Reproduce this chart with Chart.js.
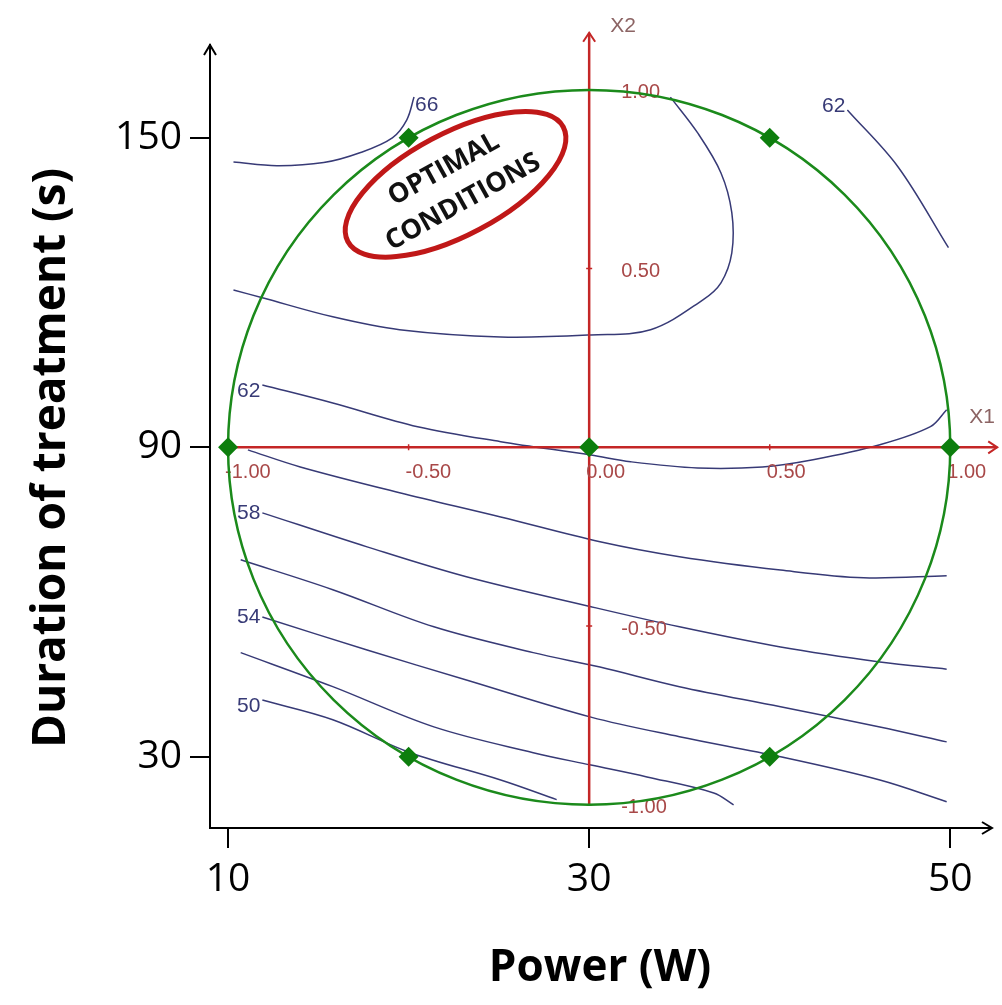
<!DOCTYPE html>
<html>
<head>
<meta charset="utf-8">
<script src="https://cdn.jsdelivr.net/npm/chart.js@4.4.1/dist/chart.umd.min.js"></script>
<style>
  html, body { margin: 0; padding: 0; background: #fff; }
  #wrap { width: 1002px; height: 1005px; position: relative; }
</style>
</head>
<body>
<div id="wrap"><canvas id="chart"></canvas></div>
<script>
// real-unit axis ticks
const powerTicks = [10, 30, 50];
const durationTicks = [30, 90, 150];

// coded axes (X1 = power, X2 = duration)
const codedX1Ticks = [-1, -0.5, 0, 0.5, 1];
const codedX1Labels = ['-1.00', '-0.50', '0.00', '0.50', '1.00'];
const codedX2Ticks = [-1, -0.5, 0.5, 1];
const codedX2Labels = ['-1.00', '-0.50', '0.50', '1.00'];
const designCenter = [30, 90];     // W, s  (coded 0,0)
const codedUnit = [20, 69.3];      // W, s per coded unit

// Doehlert design points
const designPower = [10, 50, 30, 20, 40, 20, 40];
const designTime = [90, 90, 90, 150, 150, 30, 30];

// iso-response lines [power, time]
const c66 = [[20.3, 157.9], [19.9, 153.5], [19.1, 150.0], [17.3, 147.1], [15.3, 145.2], [12.7, 144.6], [10.3, 145.3]];
const c64 = [[10.3, 120.5], [11.9, 119.0], [15.8, 115.3], [19.5, 112.8], [25.1, 111.4], [30.1, 111.8], [33.4, 112.8],
             [36.3, 118.6], [37.3, 121.9], [37.9, 127.7], [37.9, 135.5], [37.3, 143.2], [36.0, 151.0], [34.5, 157.9]];
const c62a = [[44.3, 155.4], [47.1, 144.4], [49.9, 128.7]];
const c62b = [[11.9, 102.1], [15.8, 98.6], [20.5, 94.0], [25.1, 91.1], [30.1, 88.5], [32.3, 87.2], [36.0, 86.0],
              [39.6, 86.2], [42.4, 87.6], [46.1, 90.5], [48.9, 94.0], [49.8, 97.3]];
const c60 = [[11.1, 89.5], [14.0, 86.2], [19.5, 81.2], [25.1, 76.5], [30.6, 71.7], [35.0, 68.8], [40.6, 66.2], [45.2, 64.7], [49.8, 65.1]];
const c58 = [[11.9, 77.3], [17.7, 70.7], [23.2, 64.9], [30.1, 59.1], [35.0, 55.2], [40.6, 51.3], [46.1, 48.4], [49.8, 47.0]];
const c56 = [[10.7, 68.2], [15.8, 62.4], [21.4, 55.2], [26.9, 50.2], [30.6, 47.4], [35.0, 43.6], [40.6, 39.7], [46.1, 35.8], [49.8, 32.9]];
const c54 = [[11.9, 57.1], [17.7, 50.7], [23.2, 44.9], [30.1, 37.7], [35.0, 33.9], [40.6, 30.0], [46.1, 25.5], [49.8, 21.3]];
const c52 = [[10.7, 50.2], [15.8, 43.6], [21.4, 35.8], [26.9, 30.8], [30.1, 28.4], [33.2, 26.1], [36.9, 23.0], [38.0, 20.7]];
const c50 = [[11.9, 41.0], [15.8, 37.2], [20.1, 30.8], [25.1, 25.5], [28.2, 21.7]];

const contourLines = [c66, c64, c62a, c62b, c60, c58, c56, c54, c52, c50];
const contourLevels = [66, 64, 62, 62, 60, 58, 56, 54, 52, 50];
const labelledLevels = [true, false, true, true, false, true, false, true, false, true];

// where each level label sits relative to the first point of its line (px)
const labelPlace = [
  { align: 'left', dx: 1, dy: 8 },
  null,
  { align: 'right', dx: -2, dy: -4 },
  { align: 'right', dx: -2, dy: 6 },
  null,
  { align: 'right', dx: -2, dy: 0 },
  null,
  { align: 'right', dx: -2, dy: 0 },
  null,
  { align: 'right', dx: -2, dy: 6 }
];

const noteCenter = [22.6, 141.0];   // W, s
const noteLines = ['OPTIMAL', 'CONDITIONS'];

const NAVY = '#373a76';
const RED = '#c42626';
const RED_TEXT = '#a84848';
const GREEN = '#1b8a1b';

const datasets = [{
  label: 'design',
  data: designPower.map((p, i) => ({ x: p, y: designTime[i] })),
  showLine: false,
  pointStyle: 'rectRot',
  pointRadius: 10,
  backgroundColor: '#0d7e0d',
  borderColor: '#0d7e0d',
  borderWidth: 0,
  clip: false
}];
contourLines.forEach((line, i) => {
  datasets.push({
    label: String(contourLevels[i]),
    data: line.map(p => ({ x: p[0], y: p[1] })),
    showLine: true,
    pointRadius: 0,
    borderColor: NAVY,
    borderWidth: 1.5,
    tension: 0.35,
    fill: false
  });
});

function arrow(ctx, x, y, dir, len, half) {
  ctx.beginPath();
  if (dir === 'right') {
    ctx.moveTo(x - len, y - half); ctx.lineTo(x, y); ctx.lineTo(x - len, y + half);
  } else {
    ctx.moveTo(x - half, y + len); ctx.lineTo(x, y); ctx.lineTo(x + half, y + len);
  }
  ctx.stroke();
}

const overlay = {
  id: 'overlay',
  beforeDatasetDraw(chart, args) {
    if (args.index !== 0) return;
    const { ctx, scales: { x, y } } = chart;
    const cx = x.getPixelForValue(designCenter[0]);
    const cy = y.getPixelForValue(designCenter[1]);
    const toX = c => x.getPixelForValue(designCenter[0] + c * codedUnit[0]);
    const toY = c => y.getPixelForValue(designCenter[1] + c * codedUnit[1]);
    ctx.save();
    // coded axes
    ctx.strokeStyle = RED;
    ctx.lineWidth = 2.5;
    const x1Tip = toX(1.13), x2Tip = toY(1.16);
    ctx.beginPath();
    ctx.moveTo(toX(-1), cy); ctx.lineTo(x1Tip, cy);
    ctx.moveTo(cx, toY(-1)); ctx.lineTo(cx, x2Tip);
    ctx.stroke();
    ctx.lineWidth = 2;
    arrow(ctx, x1Tip, cy, 'right', 9, 6);
    arrow(ctx, cx, x2Tip, 'up', 9, 6);
    ctx.lineWidth = 1.5;
    ctx.beginPath();
    codedX1Ticks.forEach(c => { ctx.moveTo(toX(c), cy - 3); ctx.lineTo(toX(c), cy + 3); });
    codedX2Ticks.forEach(c => { ctx.moveTo(cx - 3, toY(c)); ctx.lineTo(cx + 3, toY(c)); });
    ctx.stroke();
    ctx.fillStyle = RED_TEXT;
    ctx.font = '20px "Liberation Sans", Arial, sans-serif';
    ctx.textAlign = 'left';
    ctx.textBaseline = 'middle';
    codedX1Ticks.forEach((c, i) => ctx.fillText(codedX1Labels[i], toX(c) - 3, cy + 25));
    codedX2Ticks.forEach((c, i) => ctx.fillText(codedX2Labels[i], cx + 32, toY(c) + 3));
    ctx.fillStyle = '#8c6464';
    ctx.font = '21px "Liberation Sans", Arial, sans-serif';
    ctx.fillText('X1', x1Tip - 28, cy - 30);
    ctx.fillText('X2', cx + 21, x2Tip - 6);
    // experimental domain
    ctx.strokeStyle = GREEN;
    ctx.lineWidth = 2.5;
    ctx.beginPath();
    ctx.ellipse(cx, cy, toX(1) - cx, cy - toY(1), 0, 0, Math.PI * 2);
    ctx.stroke();
    ctx.restore();
  },
  afterDraw(chart) {
    const { ctx, scales: { x, y }, chartArea } = chart;
    ctx.save();
    // contour level labels
    ctx.fillStyle = NAVY;
    ctx.font = '21px "Liberation Sans", Arial, sans-serif';
    ctx.textBaseline = 'middle';
    contourLines.forEach((line, i) => {
      if (!labelledLevels[i]) return;
      const pl = labelPlace[i];
      ctx.textAlign = pl.align;
      ctx.fillText(String(contourLevels[i]), x.getPixelForValue(line[0][0]) + pl.dx, y.getPixelForValue(line[0][1]) + pl.dy);
    });
    // axis arrows
    ctx.strokeStyle = '#000';
    ctx.lineWidth = 2;
    arrow(ctx, chartArea.right + 2, chartArea.bottom, 'right', 10, 6);
    arrow(ctx, chartArea.left, chartArea.top, 'up', 10, 6);
    // y title
    ctx.fillStyle = '#000';
    ctx.font = 'bold 46px "Open Sans", sans-serif';
    ctx.textAlign = 'center';
    ctx.translate(52, 458);
    ctx.rotate(-Math.PI / 2);
    ctx.fillText('Duration of treatment (s)', 0, 0);
    ctx.restore();

    // optimal conditions note
    ctx.save();
    ctx.translate(x.getPixelForValue(noteCenter[0]), y.getPixelForValue(noteCenter[1]));
    ctx.rotate(-28 * Math.PI / 180);
    ctx.strokeStyle = '#c01818';
    ctx.lineWidth = 5;
    ctx.beginPath();
    ctx.ellipse(0, 0, 122, 51, 0, 0, Math.PI * 2);
    ctx.stroke();
    ctx.rotate(-1 * Math.PI / 180);
    ctx.fillStyle = '#111';
    ctx.font = 'bold 27px "Open Sans", sans-serif';
    ctx.textAlign = 'center';
    ctx.textBaseline = 'alphabetic';
    ctx.fillText(noteLines[0], -3, -11);
    ctx.fillText(noteLines[1], -2, 27);
    ctx.restore();
  }
};

new Chart(document.getElementById('chart'), {
  type: 'scatter',
  data: { datasets },
  options: {
    responsive: true,
    maintainAspectRatio: false,
    animation: false,
    events: [],
    layout: { padding: { top: 45, right: 12, left: 0, bottom: 0 } },
    plugins: { legend: { display: false }, tooltip: { enabled: false } },
    scales: {
      x: {
        type: 'linear',
        min: 9.0,
        max: 52.2,
        afterBuildTicks: s => { s.ticks = powerTicks.map(v => ({ value: v })); },
        afterFit: s => { s.height = 177; },
        grid: { drawOnChartArea: false, drawTicks: true, tickLength: 20, color: '#000', lineWidth: 2 },
        border: { display: true, color: '#000', width: 2 },
        ticks: { color: '#000', font: { family: 'Open Sans', size: 39 }, padding: 8, maxRotation: 0 },
        title: { display: true, text: 'Power (W)', color: '#000', font: { family: 'Open Sans', size: 44, weight: 'bold' }, padding: { top: 0, bottom: 10 } }
      },
      y: {
        type: 'linear',
        min: 16.2,
        max: 168,
        afterBuildTicks: s => { s.ticks = durationTicks.map(v => ({ value: v })); },
        afterFit: s => { s.width = 210; },
        grid: { drawOnChartArea: false, drawTicks: true, tickLength: 20, color: '#000', lineWidth: 2 },
        border: { display: true, color: '#000', width: 2 },
        ticks: { color: '#000', font: { family: 'Open Sans', size: 39 }, padding: 8 }
      }
    }
  },
  plugins: [overlay]
});
</script>
</body>
</html>
